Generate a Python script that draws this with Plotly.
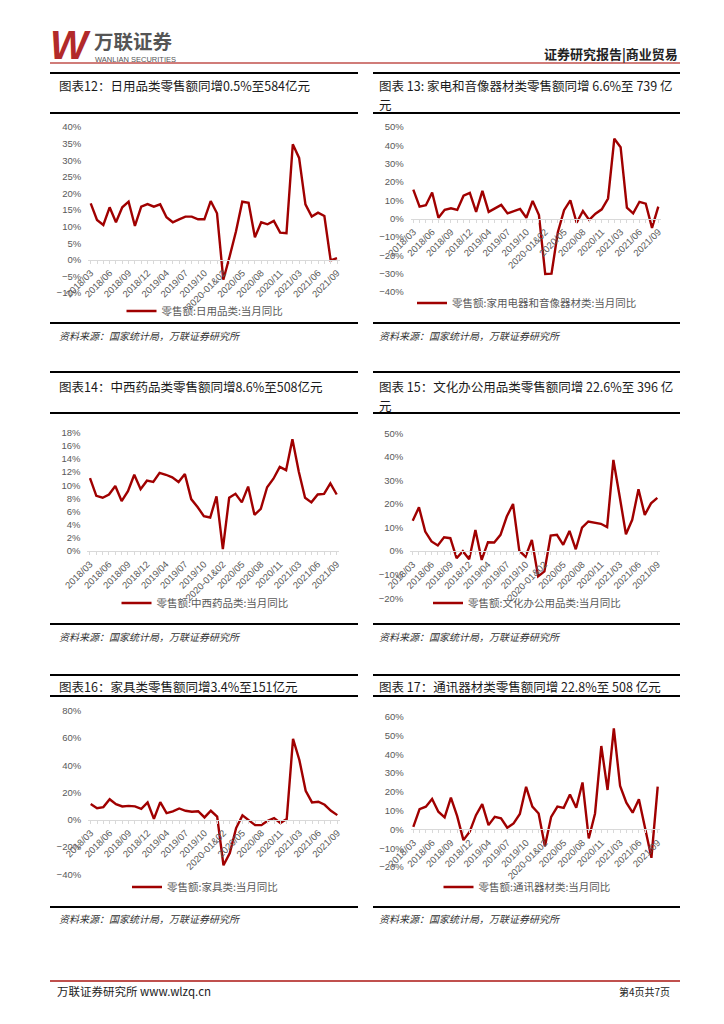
import plotly.graph_objects as go

# ---------------- data ----------------
categories = [
    "2018/03", "2018/04", "2018/05", "2018/06", "2018/07", "2018/08", "2018/09", "2018/10", "2018/11", "2018/12",
    "2019-01&02", "2019/03", "2019/04", "2019/05", "2019/06", "2019/07", "2019/08", "2019/09", "2019/10", "2019/11", "2019/12",
    "2020-01&02", "2020/03", "2020/04", "2020/05", "2020/06", "2020/07", "2020/08", "2020/09", "2020/10", "2020/11", "2020/12",
    "2021-01&02", "2021/03", "2021/04", "2021/05", "2021/06", "2021/07", "2021/08", "2021/09",
]
shown_ticks = ["2018/03", "2018/06", "2018/09", "2018/12", "2019/04", "2019/07", "2019/10",
               "2020-01&02", "2020/05", "2020/08", "2020/11", "2021/03", "2021/06", "2021/09"]

daily_goods = [17.0, 12.0, 10.5, 15.8, 11.3, 15.8, 17.5, 10.2, 16.0, 16.8,
               16.0, 16.7, 12.8, 11.3, 12.2, 13.0, 13.0, 12.2, 12.2, 17.7, 14.0,
               -6.0, 1.0, 8.5, 17.5, 17.2, 6.8, 11.3, 10.7, 11.7, 8.2, 8.0,
               34.8, 30.7, 16.7, 13.0, 14.2, 13.2, -0.2, 0.5]
appliances = [15.8, 6.6, 7.3, 14.3, 0.5, 4.8, 5.7, 4.8, 12.5, 14.1,
              3.7, 15.2, 3.7, 5.7, 7.5, 2.9, 4.2, 5.3, 0.5, 9.7, 2.0,
              -30.2, -30.0, -7.5, 4.6, 10.0, -2.2, 4.2, -0.7, 2.7, 5.1, 11.0,
              43.6, 39.0, 6.0, 2.9, 9.2, 8.2, -5.0, 6.6]
medicine = [11.1, 8.4, 8.1, 8.6, 9.9, 7.6, 9.1, 11.6, 9.4, 10.7,
            10.5, 11.9, 11.6, 11.2, 10.5, 11.7, 7.9, 6.7, 5.3, 5.1, 8.3,
            0.3, 8.1, 8.7, 7.4, 9.8, 5.5, 6.4, 9.7, 11.0, 12.8, 12.3,
            17.0, 12.1, 8.1, 7.4, 8.6, 8.7, 10.3, 8.6]
office = [12.9, 18.6, 8.3, 4.1, 2.4, 5.9, 5.5, -3.0, 0.0, -3.4,
          9.0, -3.7, 3.8, 3.7, 6.9, 14.7, 20.0, 0.1, -2.3, 4.8, -10.7,
          -8.6, 6.6, 6.9, 2.7, 8.6, 0.8, 10.0, 12.6, 12.1, 11.6, 10.2,
          38.7, 23.2, 7.2, 13.3, 26.3, 15.4, 20.3, 22.6]
furniture = [11.5, 8.5, 9.3, 15.1, 11.5, 9.8, 10.2, 9.8, 8.0, 12.7,
             0.7, 12.9, 4.9, 6.1, 8.3, 6.6, 5.9, 6.3, 1.7, 6.6, 2.4,
             -33.4, -24.4, -6.1, 3.2, -0.7, -3.9, -3.9, -0.7, 1.2, -2.4, 0.5,
             59.3, 43.9, 21.2, 12.7, 13.2, 11.0, 6.6, 3.4]
telecom = [1.4, 10.8, 12.1, 16.2, 9.4, 6.4, 16.9, 7.1, -5.7, -1.2,
           7.6, 13.5, 2.3, 6.7, 5.9, 0.9, 3.2, 8.2, 22.7, 12.1, 8.5,
           -8.9, 6.7, 12.1, 11.5, 18.6, 11.5, 25.0, -4.8, 8.5, 44.4, 21.0,
           53.8, 23.1, 14.2, 8.9, 16.0, 0.0, -15.1, 22.8]

series_names = ["零售额:日用品类:当月同比", "零售额:家用电器和音像器材类:当月同比",
                "零售额:中西药品类:当月同比", "零售额:文化办公用品类:当月同比",
                "零售额:家具类:当月同比", "零售额:通讯器材类:当月同比"]
titles = ["图表12：日用品类零售额同增0.5%至584亿元",
          "图表 13: 家电和音像器材类零售额同增 6.6%至 739 亿",
          "图表14：中西药品类零售额同增8.6%至508亿元",
          "图表 15：文化办公用品类零售额同增 22.6%至 396 亿",
          "图表16：家具类零售额同增3.4%至151亿元",
          "图表 17：通讯器材类零售额同增 22.8%至 508 亿元"]
title_wraps = ["", "元", "", "元", "", ""]
source_text = "资料来源：国家统计局，万联证券研究所"

# ---------------- layout helpers ----------------
W, H = 724, 1024
CJK = "Noto Sans CJK SC"
LAT = "Liberation Sans, Arial, sans-serif"
RED_LINE = "#A00000"
GRAY = "#595959"


def px(x):
    return x / W


def py(y):
    return 1 - y / H


panels = [
    dict(vals=daily_goods, x0=90.7, x1=337.0, ytop=127, ybot=293, ymin=-10, ymax=40, dt=5, lx=205, ly=311),
    dict(vals=appliances, x0=413.3, x1=658.3, ytop=127, ybot=292, ymin=-40, ymax=50, dt=10, lx=527, ly=303),
    dict(vals=medicine, x0=90.0, x1=336.7, ytop=432.7, ybot=551, ymin=0, ymax=18, dt=2, lx=205, ly=603),
    dict(vals=office, x0=412.7, x1=657.3, ytop=433.3, ybot=598.3, ymin=-20, ymax=50, dt=10, lx=527, ly=603),
    dict(vals=furniture, x0=90.7, x1=337.3, ytop=710.7, ybot=874.3, ymin=-40, ymax=80, dt=20, lx=205, ly=887),
    dict(vals=telecom, x0=413.3, x1=657.7, ytop=716.7, ybot=867, ymin=-20, ymax=60, dt=10, lx=527, ly=887),
]

fig = go.Figure()
layout = dict(
    width=W, height=H, margin=dict(l=0, r=0, t=0, b=0),
    paper_bgcolor="white", plot_bgcolor="rgba(0,0,0,0)",
    showlegend=True,
)

ticktext = [c if c in shown_ticks else "" for c in categories]
n = len(categories)

for i, p in enumerate(panels, start=1):
    sfx = "" if i == 1 else str(i)
    per = (p["x1"] - p["x0"]) / (n - 1)
    pad = 0.4
    d0 = p["x0"] - pad * per
    d1 = p["x1"] + pad * per
    yb, yt = py(p["ybot"]), py(p["ytop"])
    zero_pos = yb + (0 - p["ymin"]) / (p["ymax"] - p["ymin"]) * (yt - yb)

    fig.add_trace(go.Scatter(
        x=categories, y=p["vals"], mode="lines",
        line=dict(color=RED_LINE, width=2.4),
        name=series_names[i - 1],
        xaxis="x" + sfx, yaxis="y" + sfx,
        legend="legend" + sfx,
        hovertemplate="%{x}: %{y}%<extra></extra>",
    ))

    layout["xaxis" + sfx] = dict(
        type="category", domain=[px(d0), px(d1)], range=[-pad, n - 1 + pad],
        anchor="free", position=zero_pos,
        showline=True, linecolor="#d9d9d9", linewidth=1,
        ticks="outside", ticklen=3, tickcolor="#d9d9d9",
        tickmode="array", tickvals=categories, ticktext=ticktext,
        tickangle=-45, tickfont=dict(family=LAT, size=9.5, color=GRAY),
        showgrid=False, zeroline=False, automargin=False,
    )
    layout["yaxis" + sfx] = dict(
        domain=[yb, yt], range=[p["ymin"], p["ymax"]],
        anchor="x" + sfx, dtick=p["dt"], tick0=0, ticksuffix="%",
        tickfont=dict(family=LAT, size=9.5, color=GRAY),
        showgrid=False, zeroline=False, showline=False,
        ticks="", ticklabelstandoff=6, automargin=False,
    )
    layout["legend" + sfx] = dict(
        x=px(p["lx"]), y=py(p["ly"]), xanchor="center", yanchor="middle",
        orientation="h", bgcolor="rgba(0,0,0,0)", itemwidth=30,
        font=dict(family=CJK, size=10.5, color=GRAY),
    )

fig.update_layout(**layout)

# ---------------- decorative lines ----------------
shapes = []


def hline(y, x0, x1, color="black", width=2):
    shapes.append(dict(type="line", xref="paper", yref="paper",
                       x0=px(x0), x1=px(x1), y0=py(y), y1=py(y),
                       line=dict(color=color, width=width)))


hline(63, 50, 680, "#c0504d", 1.5)
for y in (73, 113, 323, 372, 413, 624, 675, 696, 907):
    hline(y, 50, 358)
    hline(y, 373, 680)
hline(981, 50, 680, "#c0504d", 2)
fig.update_layout(shapes=shapes)

# ---------------- texts ----------------
ann = []


def text(x, y, s, size, color="#1a1a1a", family=CJK, xanchor="left", yanchor="middle", align="left"):
    ann.append(dict(x=px(x), y=py(y), xref="paper", yref="paper", text=s, showarrow=False,
                    xanchor=xanchor, yanchor=yanchor, align=align,
                    font=dict(family=family, size=size, color=color)))


# header
text(48, 45, "<b><i>W</i></b>", 40, "#b22a2a", LAT)
text(92, 40.5, "<b>万联证券</b>", 19.5, "#555555")
text(93, 59.5, "WANLIAN SECURITIES", 7.5, "#555555", LAT)
text(680, 53, "<b>证券研究报告|商业贸易</b>", 13, "#222222", CJK, xanchor="right")

# titles
title_pos = [(57, 85), (377, 85), (57, 386), (377, 386), (57, 686), (377, 686)]
for (x, y), t, w in zip(title_pos, titles, title_wraps):
    text(x, y, t, 12.5, "#1a1a1a", CJK)
    if w:
        text(x, y + 19, w, 12.5, "#1a1a1a", CJK)

# sources
for x, y in [(57, 335), (377, 335), (57, 636), (377, 636), (57, 918), (377, 918)]:
    text(x, y, "<i>" + source_text + "</i>", 10, "#333333")

# footer
text(55, 991, "万联证券研究所 www.wlzq.cn", 11.5, "#222222")
text(672, 991, "第4页共7页", 10, "#222222", xanchor="right")

fig.update_layout(annotations=ann)

fig.write_html("out.html", config={"displayModeBar": False},
               post_script="document.body.style.margin='0';")
